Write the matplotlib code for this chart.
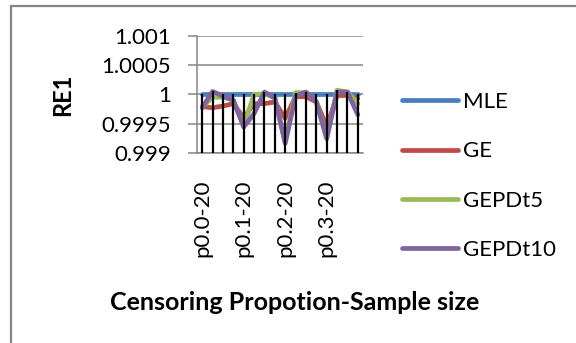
import numpy as np
import matplotlib
matplotlib.use('Agg')
import matplotlib.pyplot as plt
from matplotlib.patches import Rectangle

plt.rcParams['font.family'] = ['Lato', 'DejaVu Sans']

# categories: censoring proportion - sample size
categories = ['p0.0-20', 'p0.0-30', 'p0.0-50', 'p0.0-100',
              'p0.1-20', 'p0.1-30', 'p0.1-50', 'p0.1-100',
              'p0.2-20', 'p0.2-30', 'p0.2-50', 'p0.2-100',
              'p0.3-20', 'p0.3-30', 'p0.3-50', 'p0.3-100']
shown_labels = ['p0.0-20', 'p0.1-20', 'p0.2-20', 'p0.3-20']

mle = [1.0] * 16
ge = [0.99979, 0.99977, 0.99980, 0.99984, 0.99960, 0.99984, 0.99984, 0.99987,
      0.99959, 0.99996, 0.99996, 0.99987, 0.99945, 0.99998, 0.99998, 0.99993]
gepdt5 = [0.99978, 0.99995, 0.99995, 0.99990, 0.99946, 1.00000, 1.00001, 0.99994,
          0.99918, 1.00003, 1.00003, 0.99988, 0.99926, 1.00007, 1.00004, 0.99984]
gepdt10 = [0.99977, 1.00005, 0.99997, 0.99990, 0.99944, 0.99967, 1.00004, 0.99994,
           0.99916, 0.99997, 1.00004, 0.99987, 0.99924, 1.00004, 1.00004, 0.99965]

yticks = [0.999, 0.9995, 1, 1.0005, 1.001]
ytick_labels = ['0.999', '0.9995', '1', '1.0005', '1.001']

series = [('MLE', mle, '#4A7EBB'),
          ('GE', ge, '#BE4B48'),
          ('GEPDt5', gepdt5, '#9BBB59'),
          ('GEPDt10', gepdt10, '#7F63A1')]

grey = '#868686'

fig = plt.figure(figsize=(5.76, 3.43), dpi=100)
ax = fig.add_axes([197 / 576, 1 - 152.7 / 343, 166 / 576, 116.7 / 343])

x = np.arange(len(categories))
for name, vals, col in series:
    ax.plot(x, vals, color=col, lw=3.4, label=name, solid_joinstyle='round',
            solid_capstyle='round', zorder=3)

# drop lines from highest point to category axis
tops = np.max([mle, ge, gepdt5, gepdt10], axis=0)
ax.vlines(x, 0.999, tops, color='black', lw=1.6, zorder=4)

ax.set_xlim(-0.5, len(categories) - 0.5)
ax.set_ylim(0.999, 1.001)
ax.set_yticks(yticks)
ax.set_yticklabels(ytick_labels, fontsize=16)
ax.set_xticks([categories.index(c) for c in shown_labels])
ax.set_xticklabels(shown_labels, rotation=90, fontsize=16, va='top')
ax.tick_params(axis='x', length=0, pad=19)
ax.tick_params(axis='y', length=6.5, width=1.1, color=grey, pad=12)
ax.grid(axis='y', color=grey, lw=1.1, zorder=0)
ax.set_axisbelow(True)
for s in ['top', 'right']:
    ax.spines[s].set_visible(False)
for s in ['left', 'bottom']:
    ax.spines[s].set_color(grey)
    ax.spines[s].set_linewidth(1.1)

fig.text(63 / 576, 1 - 95 / 343, 'RE1', rotation=90, fontsize=17,
         fontweight='bold', ha='center', va='center')
fig.text(295 / 576, 1 - 302 / 343, 'Censoring Propotion-Sample size',
         fontsize=18, fontweight='bold', ha='center', va='center')

fig.legend(loc='upper left', bbox_to_anchor=(402 / 576, 1 - 92 / 343),
           frameon=False, fontsize=16, handlelength=2.5, handletextpad=0.25,
           labelspacing=1.32, borderpad=0, borderaxespad=0)

fig.patches.append(Rectangle((11 / 576, -0.05), 1.1, 1 - 6 / 343 + 0.05,
                             transform=fig.transFigure, fill=False,
                             edgecolor=grey, lw=1.6))

fig.savefig('out.png', dpi=100)
